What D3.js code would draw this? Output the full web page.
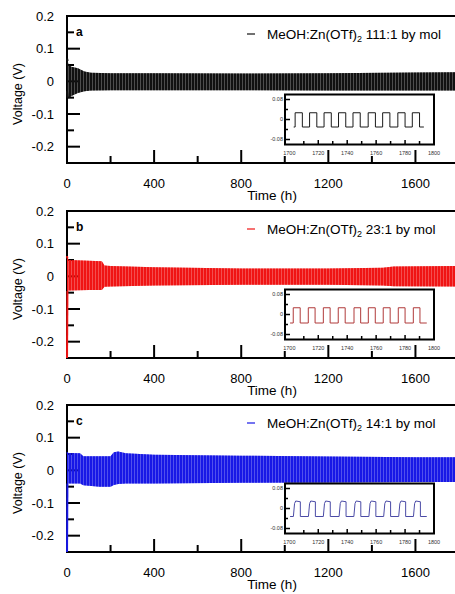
<!DOCTYPE html>
<html>
<head>
<meta charset="utf-8">
<script src="https://cdn.jsdelivr.net/npm/d3@7"></script>
<style>
  body { margin: 0; background: #fff; }
  svg { display: block; font-family: Arial, "Liberation Sans", sans-serif; }
</style>
</head>
<body>
<svg id="chart" width="455" height="594"></svg>
<script>
// ---- data ----
var panelLetters = ["a", "b", "c"]
var ratioLabels = ["111:1", "23:1", "14:1"]
var traceColors = ["#111111", "#f01414", "#1818e6"]
var insetColors = ["#1a1a1a", "#b03a3a", "#4b4ba6"]

var xTicksMajor = [0, 400, 800, 1200, 1600]
var xTicksMinor = [200, 600, 1000, 1400, 1800]
var yTicksMajor = [-0.2, -0.1, 0, 0.1, 0.2]
var yTicksMinor = [-0.15, -0.05, 0.05, 0.15]
var insetYTicksMajor = [-0.08, 0, 0.08]
var insetYTicksMinor = [-0.04, 0.04]
var insetXLabels = [1700, 1720, 1740, 1760, 1780, 1800]
var insetXTicks = [1710, 1720, 1730, 1740, 1750, 1760, 1770, 1780, 1790]

// envelope of the dense cycling trace (upper / lower voltage vs time)
var timeA  = [0, 3, 8, 20, 50, 80, 110, 200, 400, 800, 1200, 1600, 1800]
var upperA = [0.07, 0.062, 0.05, 0.045, 0.04, 0.03, 0.026, 0.025, 0.025, 0.024, 0.025, 0.027, 0.028]
var lowerA = [-0.03, -0.05, -0.052, -0.045, -0.036, -0.03, -0.028, -0.027, -0.027, -0.027, -0.028, -0.028, -0.028]

var timeB  = [0, 2, 10, 100, 160, 172, 200, 400, 800, 1200, 1450, 1500, 1800]
var upperB = [0.062, 0.055, 0.05, 0.048, 0.046, 0.033, 0.032, 0.028, 0.024, 0.024, 0.026, 0.03, 0.032]
var lowerB = [-0.26, -0.045, -0.043, -0.042, -0.042, -0.032, -0.031, -0.028, -0.026, -0.026, -0.028, -0.03, -0.031]

var timeC  = [0, 2, 60, 75, 150, 200, 215, 235, 270, 400, 800, 1200, 1600, 1800]
var upperC = [0.055, 0.053, 0.052, 0.043, 0.043, 0.043, 0.055, 0.058, 0.052, 0.048, 0.045, 0.042, 0.04, 0.04]
var lowerC = [-0.26, -0.04, -0.04, -0.046, -0.05, -0.05, -0.045, -0.042, -0.04, -0.04, -0.038, -0.037, -0.036, -0.036]

// inset: zoom on 1700-1800 h
var insetTimeA = [1703, 1704, 1709, 1714, 1719, 1724, 1729, 1734, 1739, 1744, 1749,
                  1754.5, 1759.5, 1764.5, 1769.5, 1775, 1780, 1785, 1790, 1793]
var insetVoltA = [-0.03, 0.027, -0.03, 0.027, -0.03, 0.027, -0.03, 0.027, -0.03, 0.027, -0.03,
                  0.027, -0.03, 0.027, -0.03, 0.027, -0.03, 0.027, -0.03, -0.03]

var insetTimeB = [1700.5, 1702.7, 1707.5, 1713.1, 1717.8, 1723.5, 1728.2, 1733.8, 1738.6, 1744.7,
                  1749.3, 1754.6, 1759.4, 1764.9, 1769.7, 1775.3, 1780, 1785.7, 1790.3, 1795]
var insetVoltB = [-0.034, 0.027, -0.034, 0.027, -0.034, 0.027, -0.034, 0.027, -0.034, 0.027,
                  -0.034, 0.027, -0.034, 0.027, -0.034, 0.027, -0.034, 0.027, -0.034, -0.034]

var insetTimeC = [1700.5, 1702.8, 1703.6, 1704.4, 1707.6, 1707.6,
                  1713.2, 1714.0, 1714.8, 1718.0, 1718.0,
                  1723.5, 1724.3, 1725.1, 1728.3, 1728.3,
                  1734.4, 1735.2, 1736.0, 1739.2, 1739.2,
                  1744.6, 1745.4, 1746.2, 1749.4, 1749.4,
                  1755.0, 1755.8, 1756.6, 1759.8, 1759.8,
                  1765.2, 1766.0, 1766.8, 1770.0, 1770.0,
                  1775.6, 1776.4, 1777.2, 1780.4, 1780.4,
                  1785.8, 1786.6, 1787.4, 1790.6, 1790.6,
                  1795.0]
var insetVoltC = [-0.032, -0.032, 0.02, 0.03, 0.027, -0.032,
                  -0.032, 0.02, 0.03, 0.027, -0.032,
                  -0.032, 0.02, 0.03, 0.027, -0.032,
                  -0.032, 0.02, 0.03, 0.027, -0.032,
                  -0.032, 0.02, 0.03, 0.027, -0.032,
                  -0.032, 0.02, 0.03, 0.027, -0.032,
                  -0.032, 0.02, 0.03, 0.027, -0.032,
                  -0.032, 0.02, 0.03, 0.027, -0.032,
                  -0.032, 0.02, 0.03, 0.027, -0.032,
                  -0.032]

var traces = [
  {time: timeA, upper: upperA, lower: lowerA, it: insetTimeA, iv: insetVoltA, curve: d3.curveStepAfter},
  {time: timeB, upper: upperB, lower: lowerB, it: insetTimeB, iv: insetVoltB, curve: d3.curveStepAfter},
  {time: timeC, upper: upperC, lower: lowerC, it: insetTimeC, iv: insetVoltC, curve: d3.curveLinear}
]

// ---- layout ----
var PANEL_TOPS = [16, 211, 405]
var LEFT = 67, RIGHT = 459, H = 147

var svg = d3.select("#chart")
var defs = svg.append("defs")

var x = d3.scaleLinear().domain([0, 1800]).range([LEFT, RIGHT])
var y = d3.scaleLinear().domain([-0.25, 0.2]).range([H, 0])

var ix = d3.scaleLinear().domain([1697, 1800]).range([285, 434])
var iy = d3.scaleLinear().domain([-0.1, 0.1]).range([128.5, 78.5])

function drawPanel(i) {
  var tr = traces[i]
  var color = traceColors[i]
  var g = svg.append("g").attr("transform", "translate(0," + PANEL_TOPS[i] + ")")

  // clip a little left of the axis so the first sample shows over it
  defs.append("clipPath").attr("id", "clip" + i)
    .append("rect").attr("x", LEFT - 2).attr("y", 0).attr("width", RIGHT - LEFT + 2).attr("height", H)

  var pat = defs.append("pattern").attr("id", "stripe" + i)
    .attr("patternUnits", "userSpaceOnUse")
    .attr("width", 3).attr("height", 10)
  pat.append("rect").attr("width", 2.5).attr("height", 10).attr("fill", color)

  // frame
  g.append("rect")
    .attr("x", LEFT).attr("y", 0).attr("width", RIGHT - LEFT).attr("height", H)
    .attr("fill", "none").attr("stroke", "#000").attr("stroke-width", 2)

  // y ticks (inward)
  g.selectAll(".ytick")
    .data(yTicksMajor.map(function(v) { return {v: v, len: 13} })
      .concat(yTicksMinor.map(function(v) { return {v: v, len: 7} })))
    .enter().append("line")
    .attr("class", "ytick")
    .attr("x1", LEFT).attr("x2", function(d) { return LEFT + d.len })
    .attr("y1", function(d) { return y(d.v) }).attr("y2", function(d) { return y(d.v) })
    .attr("stroke", "#000").attr("stroke-width", 2)

  g.selectAll(".ylab")
    .data(yTicksMajor)
    .enter().append("text")
    .attr("x", 54).attr("y", function(d) { return y(d) }).attr("dy", "0.35em")
    .attr("text-anchor", "end").attr("font-size", 13)
    .text(function(d) { return d === 0 ? "0" : d3.format(".1f")(d).replace("−", "-") })

  // x ticks (inward, from bottom)
  g.selectAll(".xtick")
    .data(xTicksMajor.map(function(v) { return {v: v, len: 13} })
      .concat(xTicksMinor.map(function(v) { return {v: v, len: 7} })))
    .enter().append("line")
    .attr("class", "xtick")
    .attr("x1", function(d) { return x(d.v) }).attr("x2", function(d) { return x(d.v) })
    .attr("y1", H).attr("y2", function(d) { return H - d.len })
    .attr("stroke", "#000").attr("stroke-width", 2)

  g.selectAll(".xlab")
    .data(xTicksMajor)
    .enter().append("text")
    .attr("x", function(d) { return x(d) }).attr("y", H + 20).attr("dy", "0.35em")
    .attr("text-anchor", "middle").attr("font-size", 13)
    .text(function(d) { return d })

  g.append("text")
    .attr("x", 272).attr("y", H + 37)
    .attr("text-anchor", "middle").attr("font-size", 13.5)
    .text("Time (h)")

  g.append("text")
    .attr("transform", "translate(18," + 78 + ") rotate(-90)")
    .attr("dy", "0.35em")
    .attr("text-anchor", "middle").attr("font-size", 12.5)
    .text("Voltage (V)")

  // dense cycling trace
  var pts = tr.time.map(function(t, k) { return {t: t, hi: tr.upper[k], lo: tr.lower[k]} })
  var area = d3.area()
    .x(function(d) { return x(d.t) })
    .y0(function(d) { return y(d.lo) })
    .y1(function(d) { return y(d.hi) })
  var dataG = g.append("g").attr("clip-path", "url(#clip" + i + ")")
  dataG.append("path").datum(pts).attr("d", area)
    .attr("fill", color).attr("fill-opacity", 0.5)
  dataG.append("path").datum(pts).attr("d", area)
    .attr("fill", "url(#stripe" + i + ")")
  // first samples of the run
  dataG.append("path").datum(pts.slice(0, 2))
    .attr("d", d3.line().x(function(d) { return x(d.t) }).y(function(d) { return y(d.lo) }))
    .attr("fill", "none").attr("stroke", color).attr("stroke-width", 2)
  dataG.append("path").datum(pts.slice(0, 2))
    .attr("d", d3.line().x(function(d) { return x(d.t) }).y(function(d) { return y(d.hi) }))
    .attr("fill", "none").attr("stroke", color).attr("stroke-width", 2)

  // panel letter
  g.append("text")
    .attr("x", 76).attr("y", y(0.15) + 4)
    .attr("font-size", 12).attr("font-weight", "bold")
    .text(panelLetters[i])

  // legend
  g.append("line")
    .attr("x1", 247).attr("x2", 255).attr("y1", 18).attr("y2", 18)
    .attr("stroke", color).attr("stroke-width", 1.2)
  var lt = g.append("text").attr("x", 267).attr("y", 23).attr("font-size", 13.5)
  lt.append("tspan").text("MeOH:Zn(OTf)")
  lt.append("tspan").attr("dy", 3).attr("font-size", 9).text("2")
  lt.append("tspan").attr("dy", -3).text(" " + ratioLabels[i] + " by mol")

  // inset
  var ig = g.append("g")
  ig.append("rect")
    .attr("x", 285).attr("y", 78.5).attr("width", 149).attr("height", 50)
    .attr("fill", "#fff")
  ig.append("path")
    .datum(tr.it.map(function(t, k) { return [t, tr.iv[k]] }))
    .attr("d", d3.line().x(function(d) { return ix(d[0]) }).y(function(d) { return iy(d[1]) }).curve(tr.curve))
    .attr("fill", "none").attr("stroke", insetColors[i]).attr("stroke-width", 1)
  ig.append("rect")
    .attr("x", 285).attr("y", 78.5).attr("width", 149).attr("height", 50)
    .attr("fill", "none").attr("stroke", "#000").attr("stroke-width", 2)

  ig.selectAll(".iytick")
    .data(insetYTicksMajor.map(function(v) { return {v: v, len: 5} })
      .concat(insetYTicksMinor.map(function(v) { return {v: v, len: 3} })))
    .enter().append("line")
    .attr("x1", 285).attr("x2", function(d) { return 285 + d.len })
    .attr("y1", function(d) { return iy(d.v) }).attr("y2", function(d) { return iy(d.v) })
    .attr("stroke", "#000").attr("stroke-width", 1.5)

  ig.selectAll(".iylab")
    .data(insetYTicksMajor)
    .enter().append("text")
    .attr("x", 283).attr("y", function(d) { return iy(d) }).attr("dy", "0.35em")
    .attr("text-anchor", "end").attr("font-size", 5.5).attr("fill", "#333")
    .text(function(d) { return d === 0 ? "0" : d3.format(".2f")(d).replace("−", "-") })

  ig.selectAll(".ixtick")
    .data(insetXTicks)
    .enter().append("line")
    .attr("x1", function(d) { return ix(d) }).attr("x2", function(d) { return ix(d) })
    .attr("y1", 128.5).attr("y2", function(d) { return d % 20 === 0 ? 124 : 125 })
    .attr("stroke", "#000").attr("stroke-width", 1.5)

  ig.selectAll(".ixlab")
    .data(insetXLabels)
    .enter().append("text")
    .attr("x", function(d) { return ix(d) }).attr("y", 139)
    .attr("text-anchor", "middle").attr("font-size", 5.5).attr("fill", "#333")
    .text(function(d) { return d })
}

for (var i = 0; i < 3; i++) {
  drawPanel(i)
}
</script>
</body>
</html>
